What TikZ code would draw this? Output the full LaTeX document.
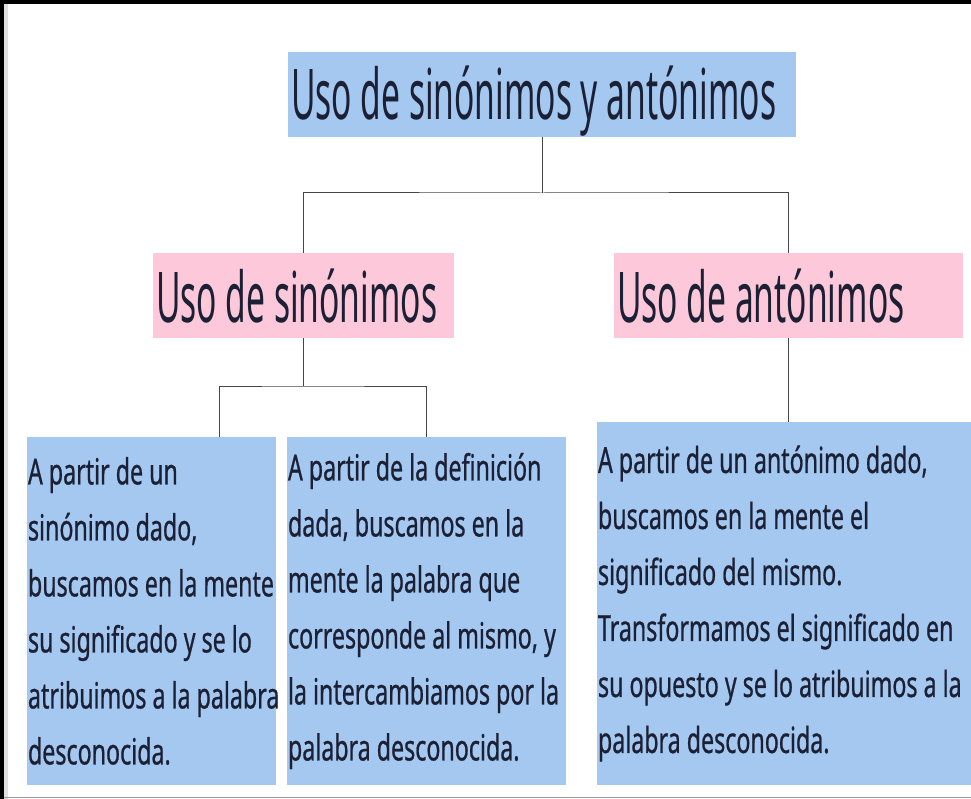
\documentclass[tikz,border=0pt]{standalone}
\usepackage{fontspec}
\usetikzlibrary{calc}
\newfontfamily\headfont[FakeStretch=0.48]{Noto Sans}
\newfontfamily\bodyfont[FakeStretch=0.645,FakeBold=0.6]{Noto Sans}
\definecolor{boxblue}{RGB}{164,200,240}
\definecolor{boxpink}{RGB}{252,200,218}
\definecolor{txtc}{RGB}{28,32,52}
\definecolor{linec}{RGB}{70,70,70}
\newcommand{\boxtext}[2]{\parbox[c]{#1}{\raggedright\hyphenpenalty=10000 #2}}
\newcommand{\headtext}[2]{\makebox[#1][l]{#2}}
\begin{document}
\begin{tikzpicture}[x=1pt,y=-1pt,
  basebox/.style={anchor=north west, inner xsep=3pt, inner ysep=0pt, outer sep=0pt, text=txtc},
  titlebox/.style={basebox, fill=boxblue, font=\headfont\fontsize{70}{76}\selectfont, text depth=0pt},
  pinkbox/.style={basebox, fill=boxpink, font=\headfont\fontsize{70}{76}\selectfont, text depth=0pt, text height=55pt},
  bodybox/.style={basebox, fill=boxblue, inner xsep=1pt, font=\bodyfont\fontsize{36}{56}\selectfont},
  conn/.style={draw=linec, line width=1pt}]
\useasboundingbox (0,0) rectangle (971,799);
\fill[white] (0,0) rectangle (971,799);
% frame
\fill[black] (0,0) rectangle (971,4);
\fill[black] (0,0) rectangle (4,799);
\fill[black!12] (4,4) rectangle (8,799);
\draw[black!40, line width=1pt] (4,797.5) -- (971,797.5);

\node[titlebox, text height=51pt, minimum width=508pt, minimum height=85pt] (t) at (288,52) {\headtext{502pt}{Uso de sinónimos y antónimos}};
\node[pinkbox, minimum width=301pt, minimum height=85pt] (pl) at (153,253) {\headtext{295pt}{Uso de sinónimos}};
\node[pinkbox, minimum width=349pt, minimum height=85pt] (pr) at (614,253) {\headtext{343pt}{Uso de antónimos}};

\node[bodybox, minimum width=249pt, minimum height=348pt] (b1) at (27,437)
  {\boxtext{247pt}{\mbox{A partir de un}\\\mbox{sinónimo dado,}\\\mbox{buscamos en la mente}\\\mbox{su significado y se lo}\\\mbox{atribuimos a la palabra}\\\mbox{desconocida.}}};
\node[bodybox, minimum width=279pt, minimum height=348pt] (b2) at (287,437)
  {\boxtext{277pt}{\mbox{A partir de la definición}\\\mbox{dada, buscamos en la}\\\mbox{mente la palabra que}\\\mbox{corresponde al mismo, y}\\\mbox{la intercambiamos por la}\\\mbox{palabra desconocida.}}};
\node[bodybox, minimum width=374pt, minimum height=363pt] (b3) at (597,422)
  {\boxtext{372pt}{\mbox{A partir de un antónimo dado,}\\\mbox{buscamos en la mente el}\\\mbox{significado del mismo.}\\\mbox{Transformamos el significado en}\\\mbox{su opuesto y se lo atribuimos a la}\\\mbox{palabra desconocida.}}};

% connectors
\coordinate (j1) at ($(t.south)+(0,56)$);
\draw[conn] (t.south) -- (j1);
\draw[conn] (pl.north) |- (j1) -| (pr.north);
\coordinate (j2) at ($(pl.south)+(0,48)$);
\coordinate (b1top) at ($(b1.north west)+(192,0)$);
\draw[conn] (pl.south) -- (j2);
\draw[conn] (b1top) |- (j2) -| (b2.north);
\draw[conn] (pr.south) -- (pr.south |- b3.north);
\end{tikzpicture}
\end{document}
